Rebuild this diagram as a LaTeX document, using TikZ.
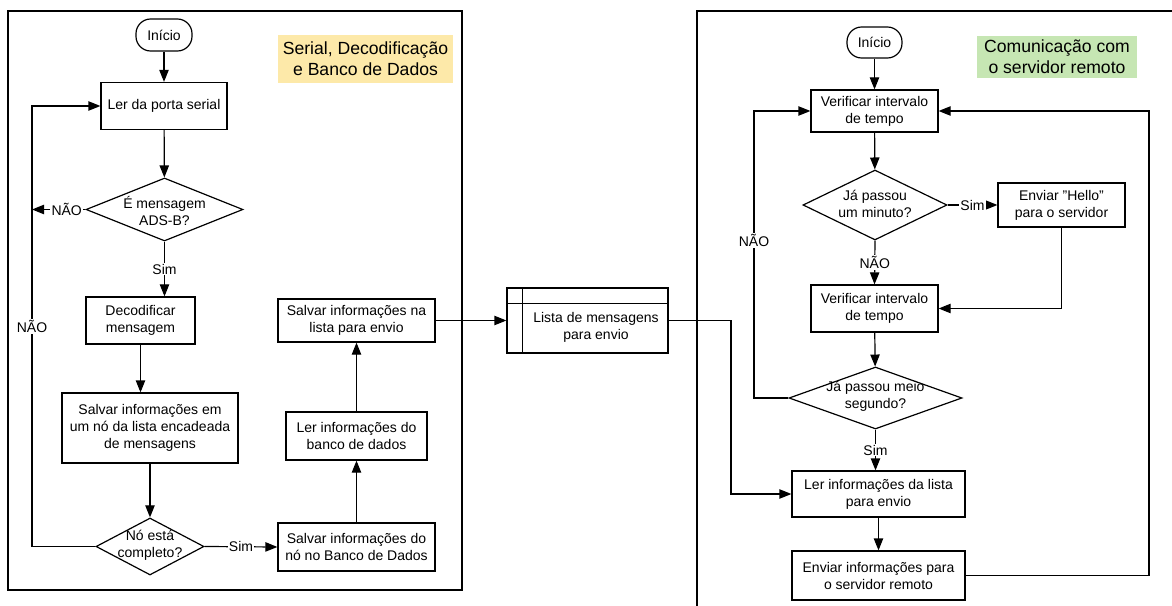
\documentclass[tikz,border=0pt]{standalone}
\usepackage{fontspec}
\setmainfont{Liberation Sans}
\usetikzlibrary{shapes.geometric, arrows.meta}

\definecolor{titleyellow}{HTML}{FDE9A9}
\definecolor{titlegreen}{HTML}{C6E6B3}

\begin{document}
\begin{tikzpicture}[x=0.75pt, y=-0.75pt, line width=0.9pt,
    >={Triangle[length=9pt, width=7pt]},
    font=\fontsize{10.5}{12.75}\selectfont,
    box/.style={draw, align=center, inner sep=0pt},
    term/.style={draw, rounded corners=11pt, inner sep=0pt},
    dec/.style={draw, diamond, inner sep=0pt},
    lbl/.style={fill=white, inner sep=1pt},
    title/.style={align=center, inner sep=0pt, font=\fontsize{13.2}{15.75}\selectfont}]

\useasboundingbox (0, 0) rectangle (1172, 606);

% frames
\draw (8, 11) rectangle (462, 590);
\draw (697, 606) -- (697, 11) -- (1172, 11);

% left part
\node(title1)[title, fill=titleyellow, minimum width=131.25pt, minimum height=36pt] at (365.5, 59) {Serial, Decodificação\\e Banco de Dados};

\node(ini1)[term, minimum width=42pt, minimum height=24pt] at (164, 35) {Início};
\node(rd)[box, minimum width=94.5pt, minimum height=35.25pt] at (164, 106) {Ler da porta serial};
\node(q1)[dec, minimum width=117.75pt, minimum height=47.25pt] at (164.5, 209.5) {};
\node(q1t)[align=center] at (164.5, 211) {É mensagem\\ADS-B?};
\node(dc)[box, minimum width=81.75pt, minimum height=35.25pt] at (140.5, 320.5) {Decodificar\\mensagem};
\node(sv)[box, minimum width=132pt, minimum height=52.5pt] at (150, 428) {Salvar informações em\\um nó da lista encadeada\\de mensagens};
\node(q2)[dec, minimum width=81pt, minimum height=42.75pt] at (150, 546.5) {};
\node(q2t)[align=center] at (150, 545.5) {Nó está\\completo?};
\node(db)[box, minimum width=117.75pt, minimum height=36pt] at (356.5, 547) {Salvar informações do\\nó no Banco de Dados};
\node(rdb)[box, minimum width=105.75pt, minimum height=36pt] at (356.5, 436) {Ler informações do\\banco de dados};
\node(sl)[box, minimum width=117.75pt, minimum height=32.25pt] at (356.5, 320.5) {Salvar informações na\\lista para envio};

\coordinate(lp1) at (32, 106);

\draw[->] (ini1) -- (rd);
\draw[->] (rd) -- (q1);
\draw[->] (q1.west) -- node[lbl, pos=0.35]{NÃO} (q1.west -| lp1);
\draw[->] (q1.south) -- node[lbl]{Sim} (q1.south |- dc.north);
\draw[->] (dc.south) -- (dc.south |- sv.north);
\draw[->] (sv) -- (q2);
\draw[->] (q2.west) -| node[lbl, pos=0.75]{NÃO} (lp1) -- (rd.west);
\draw[->] (q2.east) -- node[lbl]{Sim} (db.west);
\draw[->] (db) -- (rdb);
\draw[->] (rdb) -- (sl);

% message list
\node(lst)[draw, minimum width=120.75pt, minimum height=48.75pt, inner sep=0pt] at (587.5, 320.5) {};
\draw ([xshift=12pt]lst.north west) -- ([xshift=12pt]lst.south west);
\draw ([yshift=-12pt]lst.north west) -- ([yshift=-12pt]lst.north east);
\node(lstt)[align=center] at (596, 327) {Lista de mensagens\\para envio};

\draw[->] (sl.east) -- (lst.west);

% right part
\node(title2)[title, fill=titlegreen, minimum width=120pt, minimum height=31.5pt] at (1057, 57) {Comunicação com\\o servidor remoto};

\node(ini2)[term, minimum width=41.25pt, minimum height=23.25pt] at (874.5, 42.5) {Início};
\node(vi1)[box, minimum width=95.25pt, minimum height=31.5pt] at (874.5, 111) {Verificar intervalo\\de tempo};
\node(q3)[dec, minimum width=108pt, minimum height=52.5pt] at (875, 205) {};
\node(q3t)[align=center] at (875, 204) {Já passou\\um minuto?};
\node(hel)[box, minimum width=95.25pt, minimum height=33pt] at (1061.5, 205) {Enviar "Hello"\\para o servidor};
\node(vi2)[box, minimum width=95.25pt, minimum height=35.25pt] at (874.5, 308.5) {Verificar intervalo\\de tempo};
\node(q4)[dec, minimum width=129.75pt, minimum height=46.5pt] at (875.5, 398) {};
\node(q4t)[align=center] at (875.5, 396) {Já passou meio\\segundo?};
\node(rl)[box, minimum width=129.75pt, minimum height=34.5pt] at (878.5, 494) {Ler informações da lista\\para envio};
\node(env)[box, minimum width=129.75pt, minimum height=36.75pt] at (878.5, 575.5) {Enviar informações para\\o servidor remoto};

\coordinate(lp2) at (754, 111);
\coordinate(lp3) at (1149, 111);
\coordinate(lp4) at (731, 494);

\draw[->] (ini2) -- (vi1);
\draw[->] (vi1) -- (q3);
\draw[->] (q3.east) -- node[lbl]{Sim} (hel.west);
\draw[->] (hel.south) |- (vi2.east);
\draw[->] (q3.south) -- node[lbl]{NÃO} (vi2.north);
\draw[->] (vi2) -- (q4);
\draw[->] (q4.west) -| node[lbl, pos=0.775]{NÃO} (lp2) -- (vi1.west);
\draw[->] (q4.south) -- node[lbl]{Sim} (q4.south |- rl.north);
\draw[->] (rl) -- (env);
\draw[->] (env.east) -| (lp3) -- (vi1.east);
\draw[->] (lst.east) -| (lp4) -- (rl.west);

\end{tikzpicture}
\end{document}
